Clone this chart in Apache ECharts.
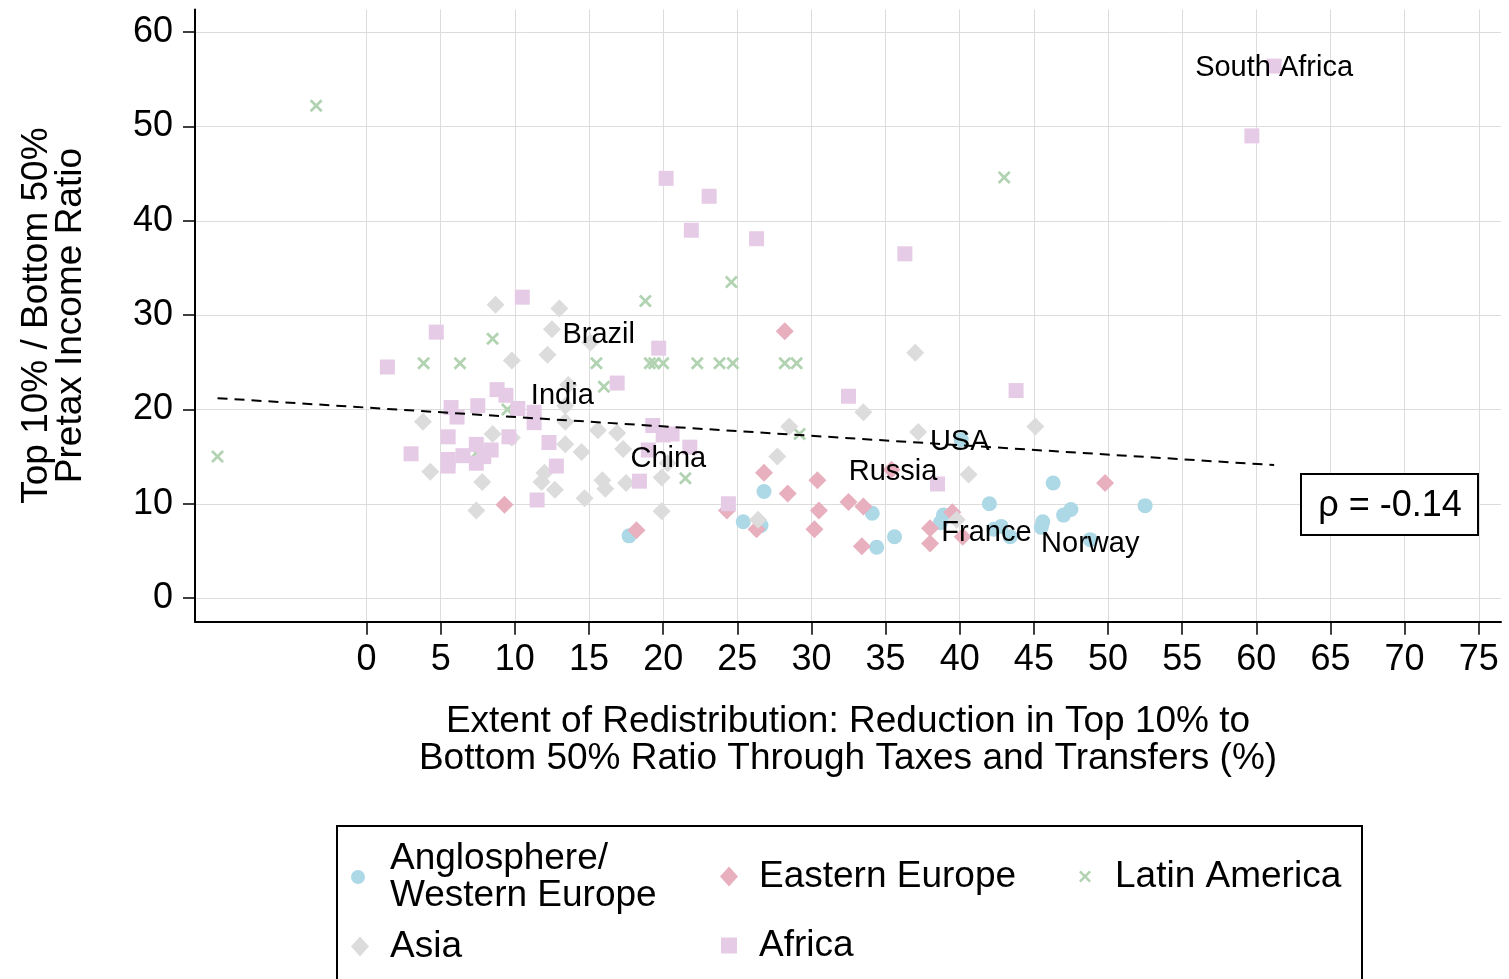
<!DOCTYPE html>
<html>
<head>
<meta charset="utf-8">
<script src="https://cdn.jsdelivr.net/npm/echarts@6/dist/echarts.min.js"></script>
<style>
	html, body { margin: 0; padding: 0; background: #fff; }
	#chart { width: 1509px; height: 979px; }
</style>
</head>
<body>
<div id="chart"></div>
<script>
// [x, y] = [reduction through taxes & transfers (%), top10/bottom50 pretax ratio]
var angloData = [[17.7, 6.6], [25.4, 8.1], [26.6, 7.7], [26.8, 11.3], [34.1, 9.0], [34.4, 5.4], [35.6, 6.5],
	[38.9, 8.8], [38.7, 8.0], [40.1, 16.8], [42.0, 10.0], [42.3, 7.3], [42.8, 7.6], [43.4, 6.5], [45.6, 8.1],
	[45.5, 7.5], [46.3, 12.2], [47.0, 8.8], [47.5, 9.4], [48.8, 6.2], [52.5, 9.8]];
var eastData = [[9.3, 9.9], [18.2, 7.2], [28.2, 28.3], [24.3, 9.3], [26.3, 7.3], [26.8, 13.3], [28.4, 11.1],
	[30.4, 12.5], [30.5, 9.3], [30.2, 7.3], [32.5, 10.2], [33.5, 9.7], [33.4, 5.5], [35.4, 13.6], [38.0, 7.4],
	[38.0, 5.8], [39.5, 9.1], [40.2, 6.5], [49.8, 12.2]];
var latinData = [[-10.05, 15.0], [-3.4, 52.2], [3.85, 24.9], [6.3, 24.9], [8.5, 27.5], [9.5, 20.0], [7.4, 15.4],
	[15.5, 24.9], [16.0, 22.4], [18.8, 31.5], [19.1, 24.9], [19.4, 24.9], [20.0, 24.9], [22.3, 24.9], [23.8, 24.9],
	[24.7, 24.9], [28.2, 24.9], [29.0, 24.9], [24.6, 33.5], [43.0, 44.6], [21.5, 12.7], [29.2, 17.4]];
var asiaData = [[8.7, 31.1], [13.0, 30.7], [12.5, 28.5], [9.8, 25.2], [12.2, 25.8], [13.6, 22.6], [13.4, 20.4],
	[13.4, 18.7], [3.8, 18.7], [8.5, 17.4], [9.8, 17.0], [13.4, 16.3], [14.5, 15.5], [4.3, 13.4], [7.8, 12.3],
	[12.0, 13.3], [11.8, 12.3], [12.7, 11.5], [14.7, 10.6], [7.4, 9.3], [15.1, 27.1], [15.6, 17.8], [16.9, 17.5],
	[17.3, 15.8], [15.9, 12.5], [16.1, 11.6], [17.5, 12.2], [19.9, 12.8], [20.3, 14.3], [19.9, 9.2], [28.5, 18.2],
	[27.7, 15.0], [26.4, 8.3], [37.0, 26.0], [33.5, 19.7], [37.2, 17.6], [40.6, 13.1], [39.8, 8.3], [45.1, 18.2]];
var africaData = [[1.4, 24.5], [4.7, 28.2], [10.5, 31.9], [8.8, 22.1], [9.4, 21.5], [5.7, 20.2], [6.1, 19.2],
	[7.5, 20.4], [10.2, 20.1], [11.3, 19.7], [11.3, 18.6], [5.5, 17.1], [9.6, 17.1], [12.3, 16.5], [3.0, 15.3],
	[7.4, 16.3], [6.5, 15.1], [5.5, 14.0], [5.5, 14.7], [7.4, 14.3], [8.4, 15.7], [7.9, 15.0], [12.8, 14.0],
	[11.5, 10.4], [19.7, 26.5], [16.9, 22.8], [19.3, 18.3], [20.0, 17.3], [20.6, 17.4], [21.8, 16.0], [18.4, 12.4],
	[24.4, 10.0], [19.0, 15.7], [20.2, 44.5], [23.1, 42.6], [21.9, 39.0], [26.3, 38.1], [36.3, 36.5], [32.5, 21.4],
	[43.8, 22.0], [38.5, 12.1], [61.2, 56.4], [59.7, 49.0]];

// fitted line end points
var trendData = [[-10.05, 21.2], [61.2, 14.1]];

// country labels
var labelNames = ['South Africa', 'Brazil', 'India', 'China', 'USA', 'Russia', 'France', 'Norway'];
var labelX = [61.2, 15.65, 13.2, 20.35, 40.0, 35.5, 41.8, 48.8];
var labelY = [56.4, 28.1, 21.6, 15.0, 16.8, 13.6, 7.1, 6.0];

var xTicks = [0, 5, 10, 15, 20, 25, 30, 35, 40, 45, 50, 55, 60, 65, 70, 75];
var yTicks = [0, 10, 20, 30, 40, 50, 60];
var rhoText = 'ρ = -0.14';

var groupNames = ['Anglosphere/Western Europe', 'Eastern Europe', 'Latin America', 'Asia', 'Africa'];

var FONT = '"Liberation Sans", Arial, sans-serif';
var crossPath = 'path://M3,0L10,7L17,0L20,3L13,10L20,17L17,20L10,13L3,20L0,17L7,10L0,3Z';

function legendItem(name, left, top, w, h, pad) {
	return {
		data: [name],
		left: left,
		top: top,
		padding: 0,
		itemWidth: w,
		itemHeight: h,
		itemGap: 0,
		selectedMode: false,
		formatter: function(n) {
			return n === groupNames[0] ? 'Anglosphere/\nWestern Europe' : n;
		},
		textStyle: {
			fontFamily: FONT,
			fontSize: 37,
			lineHeight: 37,
			color: '#000',
			padding: [0, 0, 0, pad]
		}
	};
}

function scatter(name, data, symbol, size, color) {
	return {
		name: name,
		type: 'scatter',
		symbol: symbol,
		symbolSize: size,
		itemStyle: { color: color, opacity: 1 },
		data: data
	};
}

var labelData = labelNames.map(function(n, i) {
	return { name: n, value: [labelX[i], labelY[i]] };
});

var chart = echarts.init(document.getElementById('chart'));

var option = {
	animation: false,
	grid: { left: 195, right: 8, top: 9.5, bottom: 357.3 },
	xAxis: {
		type: 'value',
		min: -11.57,
		max: 76.5,
		name: 'Extent of Redistribution: Reduction in Top 10% to\nBottom 50% Ratio Through Taxes and Transfers (%)',
		nameLocation: 'middle',
		nameGap: 82,
		nameTextStyle: { fontFamily: FONT, fontSize: 37, lineHeight: 37, color: '#000' },
		axisLine: { onZero: false, lineStyle: { color: '#000', width: 2 } },
		axisTick: { customValues: xTicks, length: 13, lineStyle: { color: '#000', width: 1.5 } },
		axisLabel: { customValues: xTicks, fontFamily: FONT, fontSize: 36, color: '#000', margin: 20 },
		splitLine: { show: true, lineStyle: { color: '#dcdcdc', width: 1 } }
	},
	yAxis: {
		type: 'value',
		min: -2.5,
		max: 62.4,
		name: 'Top 10% / Bottom 50%\nPretax Income Ratio',
		nameLocation: 'middle',
		nameRotate: 90,
		nameGap: 107,
		nameTextStyle: { fontFamily: FONT, fontSize: 37, lineHeight: 34, color: '#000' },
		axisLine: { show: true, onZero: false, lineStyle: { color: '#000', width: 2 } },
		axisTick: { show: true, customValues: yTicks, length: 12, lineStyle: { color: '#000', width: 1.5 } },
		axisLabel: { customValues: yTicks, fontFamily: FONT, fontSize: 36, color: '#000', margin: 22,
			padding: [4, 0, 0, 0] },
		splitLine: { show: true, lineStyle: { color: '#dcdcdc', width: 1 } }
	},
	legend: [
		legendItem(groupNames[0], 351, 840, 14, 14, 20),
		legendItem(groupNames[1], 720, 858, 18, 20, 16),
		legendItem(groupNames[2], 1079, 858, 12, 12, 19),
		legendItem(groupNames[3], 351, 928, 18, 20, 16),
		legendItem(groupNames[4], 721, 927, 16, 16, 17)
	],
	graphic: [{
		type: 'rect',
		shape: { x: 337, y: 826, width: 1025, height: 170 },
		style: { fill: 'none', stroke: '#000', lineWidth: 2 }
	}, {
		type: 'rect',
		shape: { x: 1301, y: 474, width: 177, height: 61 },
		style: { fill: '#fff', stroke: '#000', lineWidth: 2 },
		z: 10
	}, {
		type: 'text',
		x: 1390,
		y: 506,
		z: 11,
		style: {
			text: rhoText,
			fontFamily: FONT,
			fontSize: 36,
			fill: '#000',
			align: 'center',
			verticalAlign: 'middle'
		}
	}],
	series: [
		scatter(groupNames[0], angloData, 'circle', 15, '#add8e6'),
		scatter(groupNames[1], eastData, 'diamond', 18, '#e8afbe'),
		scatter(groupNames[2], latinData, crossPath, 13, '#b2d3b2'),
		scatter(groupNames[3], asiaData, 'diamond', 18, '#dcdcdc'),
		scatter(groupNames[4], africaData, 'rect', 15, '#e6cbe6'),
		{
			type: 'line',
			data: trendData,
			symbol: 'none',
			z: 5,
			lineStyle: { color: '#000', width: 2, type: [10, 7] }
		},
		{
			type: 'scatter',
			data: labelData,
			symbolSize: 1,
			z: 6,
			itemStyle: { color: 'rgba(0,0,0,0)', opacity: 1 },
			label: {
				show: true,
				position: 'inside',
				offset: [0, 2],
				formatter: '{b}',
				fontFamily: FONT,
				fontSize: 29,
				color: '#000',
				opacity: 1,
				textBorderWidth: 0
			}
		}
	]
};

chart.setOption(option);
</script>
</body>
</html>
